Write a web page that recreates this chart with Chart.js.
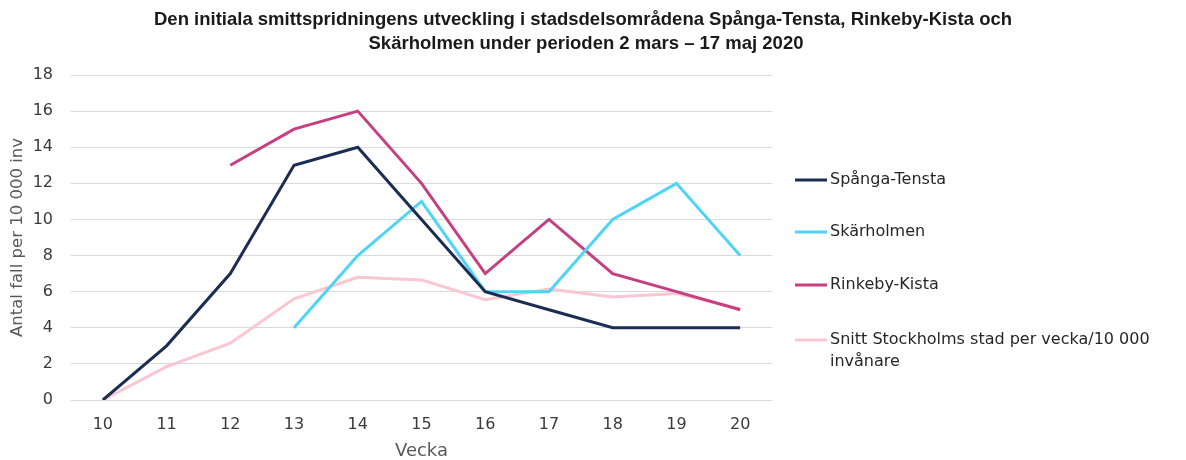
<!DOCTYPE html>
<html>
<head>
<meta charset="utf-8">
<script src="https://cdn.jsdelivr.net/npm/chart.js@4"></script>
<style>
  html, body { margin: 0; padding: 0; background: #fff; }
  #wrap { width: 1186px; height: 460px; }
</style>
</head>
<body>
<div id="wrap"><canvas id="smittChart" width="1186" height="460"></canvas></div>
<script>
const veckor = ['10', '11', '12', '13', '14', '15', '16', '17', '18', '19', '20'];

const spangaTensta = [0, 3, 7, 13, 14, 10, 6, 5, 4, 4, 4];
const skarholmen = [null, null, null, 4, 8, 11, 6, 6, 10, 12, 8];
const rinkebyKista = [null, null, 13, 15, 16, 12, 7, 10, 7, 6, 5];
const snittStockholm = [0, 1.85, 3.15, 5.6, 6.8, 6.65, 5.55, 6.15, 5.7, 5.9, 5.05];

const titelRader = [
  'Den initiala smittspridningens utveckling i stadsdelsområdena Spånga-Tensta, Rinkeby-Kista och',
  'Skärholmen under perioden 2 mars – 17 maj 2020'
];
const legendTexter = [
  ['Spånga-Tensta'],
  ['Skärholmen'],
  ['Rinkeby-Kista'],
  ['Snitt Stockholms stad per vecka/10 000', 'invånare']
];

const FONT = "'DejaVu Sans', sans-serif";
const TEXTFARG = '#3a3a3a';

// titel + legend ritas för hand (legenden har radbrytning)
const egenText = {
  id: 'egenText',
  afterDraw(chart) {
    const ctx = chart.ctx;
    ctx.save();
    ctx.fillStyle = '#1a1a1a';
    ctx.font = "bold 18.5px 'Liberation Sans', sans-serif";
    ctx.textAlign = 'center';
    ctx.textBaseline = 'middle';
    ctx.fillText(titelRader[0], 583, 20);
    ctx.fillText(titelRader[1], 586, 44);

    const ys = [180, 232, 285, 340];
    ctx.textAlign = 'left';
    ctx.font = '16px ' + FONT;
    chart.data.datasets.forEach((ds, i) => {
      ctx.strokeStyle = ds.borderColor;
      ctx.lineWidth = 3;
      ctx.beginPath();
      ctx.moveTo(795, ys[i]);
      ctx.lineTo(827, ys[i]);
      ctx.stroke();
      ctx.fillStyle = '#262626';
      legendTexter[i].forEach((rad, j) => {
        ctx.fillText(rad, 830, ys[i] + j * 22);
      });
    });
    ctx.restore();
  }
};

new Chart(document.getElementById('smittChart'), {
  type: 'line',
  data: {
    labels: veckor,
    datasets: [
      { label: 'Spånga-Tensta', data: spangaTensta, borderColor: '#1b2d52' },
      { label: 'Skärholmen', data: skarholmen, borderColor: '#4fd4f6' },
      { label: 'Rinkeby-Kista', data: rinkebyKista, borderColor: '#c63f80' },
      { label: 'Snitt Stockholms stad per vecka/10 000 invånare', data: snittStockholm, borderColor: '#fac6d2' }
    ]
  },
  options: {
    responsive: false,
    animation: false,
    spanGaps: false,
    datasets: {
      line: { borderWidth: 3, pointRadius: 0, tension: 0, fill: false }
    },
    layout: { padding: { left: 0, right: 414, top: 75, bottom: 0 } },
    plugins: {
      legend: { display: false },
      title: { display: false },
      tooltip: { enabled: false }
    },
    scales: {
      x: {
        offset: true,
        grid: { display: false },
        border: { display: false },
        ticks: { color: TEXTFARG, font: { family: FONT, size: 16 }, padding: 7 },
        title: { display: true, text: 'Vecka', color: '#595959', font: { family: FONT, size: 18, lineHeight: 1 }, padding: { top: 0, bottom: 0 } },
        afterFit(scale) { scale.height = 60; }
      },
      y: {
        min: 0,
        max: 18,
        ticks: { stepSize: 2, color: TEXTFARG, font: { family: FONT, size: 16 }, padding: 18 },
        grid: { color: '#d9d9d9', lineWidth: 1, drawTicks: false },
        border: { display: false },
        title: { display: true, text: 'Antal fall per 10 000 inv', color: '#595959', font: { family: FONT, size: 16.5 }, padding: { top: 8, bottom: 0 } },
        afterFit(scale) { scale.width = 71; }
      }
    }
  },
  plugins: [egenText]
});
</script>
</body>
</html>
